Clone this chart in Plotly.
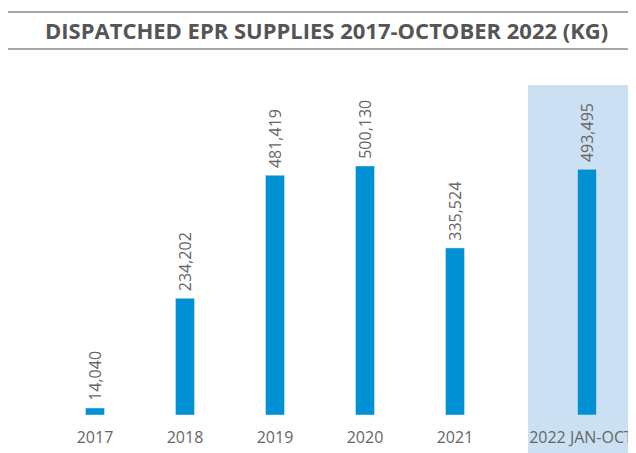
import plotly.graph_objects as go

categories = ["2017", "2018", "2019", "2020", "2021"]
values = [14040, 234202, 481419, 500130, 335524]
highlight_category = ["2022 JAN-OCT"]
highlight_values = [493495]
title_text = "DISPATCHED EPR SUPPLIES 2017-OCTOBER 2022 (KG)"

W, H = 636, 453
off = 8  # page body margin
top_px, bot_px = 85 - off, 415 - off
ph = bot_px - top_px
bar_color = "#0091d5"
text_color = "#666666"
font_fam = "Open Sans, Lato, sans-serif"

def py(px):
    return 1 + (top_px - (px - off)) / ph

def pxx(px):
    return (px - off) / W

fig = go.Figure()
fig.add_trace(go.Bar(
    x=categories, y=values, width=19 / 90, marker_color=bar_color,
    text=["\u00a0" + f"{v:,}" for v in values], textposition="outside",
    textangle=-90, cliponaxis=False,
    textfont=dict(size=16, color=text_color, family=font_fam),
    xaxis="x", yaxis="y", hoverinfo="skip"))
fig.add_trace(go.Bar(
    x=highlight_category, y=highlight_values, width=19 / 116, marker_color=bar_color,
    text=["\u00a0" + f"{v:,}" for v in highlight_values], textposition="outside",
    textangle=-90, cliponaxis=False,
    textfont=dict(size=16, color=text_color, family=font_fam),
    xaxis="x2", yaxis="y2", hoverinfo="skip"))

ymax = 662650
d = 1 / 116
tickfont = dict(size=16, color=text_color, family=font_fam)
fig.update_layout(
    width=W, height=H, margin=dict(l=0, r=0, t=top_px, b=H - bot_px),
    paper_bgcolor="white", plot_bgcolor="rgba(0,0,0,0)", showlegend=False,
    uniformtext=dict(minsize=16, mode="show"),
    xaxis=dict(domain=[pxx(50), pxx(500)], type="category", range=[-0.5, 4.5],
               showgrid=False, zeroline=False, showline=False, ticks="",
               ticklabelstandoff=11, tickfont=tickfont, automargin=False),
    xaxis2=dict(domain=[pxx(528), 1.0], type="category", range=[-0.5 - d, 0.5 - d],
                showgrid=False, zeroline=False, showline=False, ticks="",
                ticklabelstandoff=11, ticklabelshift=-6, tickfont=tickfont,
                automargin=False),
    yaxis=dict(range=[0, ymax], visible=False, showgrid=False),
    yaxis2=dict(range=[0, ymax], visible=False, showgrid=False, anchor="x2"),
    shapes=[
        dict(type="rect", xref="x2 domain", yref="paper", x0=0, x1=1.2,
             y0=py(H + 20), y1=1, fillcolor="#cbe1f3", line_width=0, layer="below"),
        dict(type="line", xref="paper", yref="paper", x0=pxx(8), x1=1.01,
             y0=py(12), y1=py(12), line=dict(color="#8a8a8a", width=1.5)),
        dict(type="line", xref="paper", yref="paper", x0=pxx(8), x1=1.01,
             y0=py(49), y1=py(49), line=dict(color="#8a8a8a", width=1.5)),
    ],
    annotations=[dict(text="<b>" + title_text + "</b>", xref="paper", yref="paper",
                      x=pxx(326), y=py(30), xanchor="center", yanchor="middle",
                      showarrow=False,
                      font=dict(size=22, color="#555555", family="Open Sans, sans-serif"))],
)
fig.write_html("out.html")
